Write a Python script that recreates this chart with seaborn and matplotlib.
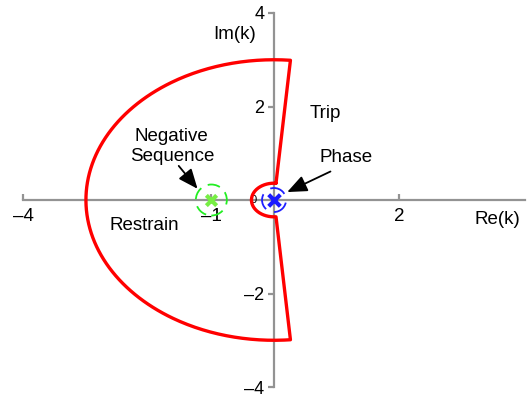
import numpy as np
import pandas as pd
import matplotlib
matplotlib.use("Agg")
import matplotlib.pyplot as plt
import seaborn as sns
from matplotlib.patches import Ellipse

# Restrain region of the alpha plane (radius ratio and blocking angle)
outer_radius = 3.0
inner_radius = 0.36
boundary_angle_deg = 85.0

# Operating points of the two elements
neg_seq_point = (-1.0, 0.0)
phase_point = (0.0, 0.0)

x_ticks = [-4, -1, 2]
x_tick_labels = ["–4", "–1", "2"]
y_ticks = [-4, -2, 2, 4]
y_tick_labels = ["–4", "–2", "2", "4"]

sns.set_theme(style="white")
plt.rcParams["font.family"] = ["Liberation Sans", "DejaVu Sans"]
plt.rcParams["text.color"] = "black"

W, H, DPI = 532, 398, 100
fig = plt.figure(figsize=(W / DPI, H / DPI), dpi=DPI)
xlim = (-4.2, 4.2)
ylim = (-4.1, 4.1)
ax = fig.add_axes([0.0201, 0.0158, 0.990, 0.9633])
ax.set_xlim(*xlim)
ax.set_ylim(*ylim)

# pixels per data unit (for rings that look round on screen)
pos = ax.get_position()
sx = pos.width * W / (xlim[1] - xlim[0])
sy = pos.height * H / (ylim[1] - ylim[0])

# ---- restrain boundary outline
a = boundary_angle_deg
th_out = np.deg2rad(np.linspace(a, 360 - a, 300))
th_in = np.deg2rad(np.linspace(360 - a, a, 120))
bx = np.concatenate([[inner_radius * np.cos(np.deg2rad(a))], outer_radius * np.cos(th_out),
                     inner_radius * np.cos(th_in)])
by = np.concatenate([[inner_radius * np.sin(np.deg2rad(a))], outer_radius * np.sin(th_out),
                     inner_radius * np.sin(th_in)])
outline = pd.DataFrame({"Re": bx, "Im": by})
sns.lineplot(data=outline, x="Re", y="Im", sort=False, estimator=None, color="#ff0000",
             linewidth=2.4, ax=ax, zorder=4)

# ---- spines through the origin
for side in ["top", "right"]:
    ax.spines[side].set_visible(False)
for side in ["left", "bottom"]:
    ax.spines[side].set_position(("data", 0))
    ax.spines[side].set_color("#939393")
    ax.spines[side].set_linewidth(1.6)
    ax.spines[side].set_zorder(2)
ax.spines["bottom"].set_bounds(-4, 4)
ax.spines["left"].set_bounds(-4, 4)

ax.set_xticks(x_ticks)
ax.set_xticklabels(x_tick_labels)
ax.set_yticks(y_ticks)
ax.set_yticklabels(y_tick_labels)
ax.tick_params(axis="x", direction="in", length=4, width=1.6, color="#939393",
               pad=6, labelsize=13.5, labelcolor="black", bottom=True)
ax.tick_params(axis="y", direction="out", length=4, width=1.6, color="#939393",
               pad=3, labelsize=13, labelcolor="black", left=True)
ax.set_xlabel("")
ax.set_ylabel("")
ax.grid(False)

# ---- operating point markers with dashed rings
r_blue, r_green = 12.0, 15.5
ax.add_patch(Ellipse(phase_point, 2 * r_blue / sx, 2 * r_blue / sy, fill=False,
                     edgecolor="#1f1fff", linewidth=1.3, linestyle=(0, (9, 5)), zorder=5))
ax.add_patch(Ellipse(neg_seq_point, 2 * r_green / sx, 2 * r_green / sy, fill=False,
                     edgecolor="#22ee22", linewidth=1.3, linestyle=(0, (7, 4)), zorder=5))
sns.scatterplot(x=[phase_point[0]], y=[phase_point[1]], marker="x", s=70, color="#1a1aff",
                linewidth=3, ax=ax, zorder=6)
sns.scatterplot(x=[neg_seq_point[0]], y=[neg_seq_point[1]], marker="x", s=55, color="#77ee44",
                linewidth=3, ax=ax, zorder=6)

# ---- labels
fs = 13.5
ax.text(-0.33, 0.0, "0", fontsize=8, color="black", ha="center", va="center", zorder=3)
ax.text(-0.29, 3.55, "Im(k)", fontsize=fs, ha="right", va="center")
ax.text(3.92, -0.42, "Re(k)", fontsize=fs, ha="right", va="center")
ax.text(0.81, 1.84, "Trip", fontsize=fs, ha="center", va="center")
ax.text(-2.07, -0.55, "Restrain", fontsize=fs, ha="center", va="center")
ax.text(-1.63, 1.14, "Negative\nSequence", fontsize=fs, ha="center", va="center",
        linespacing=1.2)
ax.text(1.15, 0.9, "Phase", fontsize=fs, ha="center", va="center")

arrow = dict(arrowstyle="-|>,head_length=1.0,head_width=0.42", color="black", lw=1.3,
             shrinkA=0, shrinkB=0)
ax.annotate("", xy=(-1.22, 0.24), xytext=(-1.52, 0.73), arrowprops=arrow, zorder=7)
ax.annotate("", xy=(0.21, 0.17), xytext=(0.9, 0.61), arrowprops=arrow, zorder=7)

fig.savefig("out.png", dpi=DPI)
